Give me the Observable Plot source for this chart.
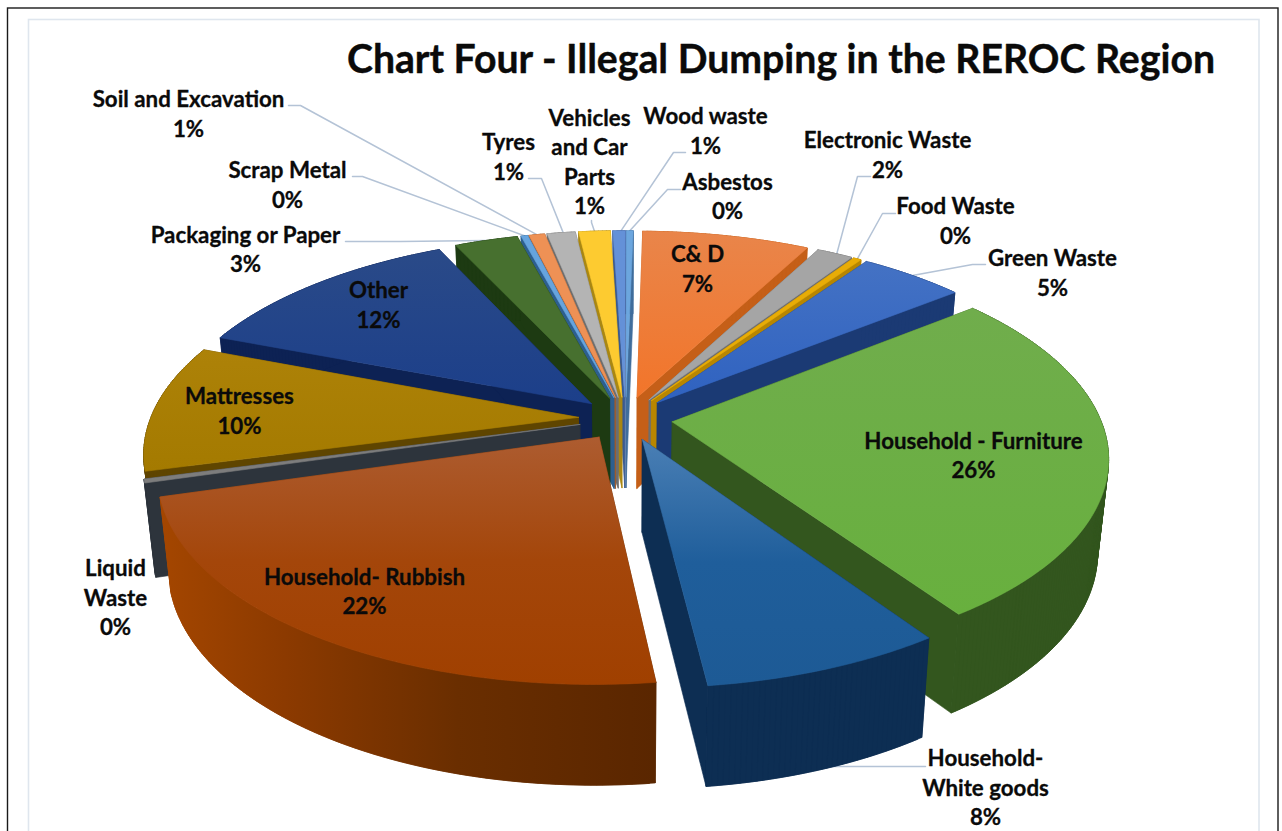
<!DOCTYPE html>
<html>
<head>
<meta charset="utf-8">
<style>
  html, body { margin: 0; padding: 0; background: #fff; overflow: hidden; }
  svg { display: block; }
</style>
<script src="https://cdn.jsdelivr.net/npm/d3@7"></script>
<script src="https://cdn.jsdelivr.net/npm/@observablehq/plot@0.6"></script>
</head>
<body>
<script>
// Waste categories, clockwise from the top of the pie
const categories = ["C& D", "Electronic Waste", "Food Waste", "Green Waste", "Household - Furniture",
  "Household-\nWhite goods", "Household- Rubbish", "Liquid\nWaste", "Mattresses", "Other",
  "Packaging or Paper", "Scrap Metal", "Soil and Excavation", "Tyres", "Vehicles\nand Car\nParts",
  "Wood waste", "Asbestos"];
// Share of illegal dumping incidents, percent
const shares = [7.4, 1.6, 0.35, 4.65, 26.2, 7.6, 22.45, 0.3, 10, 12.2, 2.8, 0.3, 0.7, 1.25, 1.4, 0.55, 0.3];

// Slice colours: top surface, side wall
const topColors = ["url(#gCD)", "#a5a5a5", "#e8ac06", "url(#gGreen)", "url(#gFurn)",
  "url(#gWhite)", "url(#gRub)", "#7d7d7d", "url(#gMat)", "url(#gOther)",
  "#47702f", "#66a4de", "#ee9155", "#b4b4b4", "#fdcb30", "#6491d8", "#6ca6de"];
const sideColors = ["#c55f18", "#6e6e6e", "#b88600", "#1b3a74", "#33561e",
  "#0d2e53", "url(#gRubSide)", "#2d343c", "#5f4500", "#0d2254",
  "#1d3a12", "#2d5f8f", "#a05a2b", "#6e6e6e", "#a98712", "#3a5a90", "#3f6d9c"];

// Anchor of each label (centre x, centre y) and the label end of its leader, where one is drawn
const labelX = [697, 887, 955, 1052, 973, 985, 364, 115, 239, 378, 245, 287, 188, 508, 589, 705, 727];
const labelY = [267, 153, 219, 271, 453.5, 786, 589.5, 596, 409, 303, 247.5, 183, 112, 155, 160, 129, 194.5];
const leaderStart = [null, [[870, 176], [857, 176]], [[895, 213], [882, 213]], [[985, 264], [972, 264]],
  null, [[925, 766], [822, 766]], null, null, null, null,
  [[345, 241], [400, 241]], [[352, 176], [362, 176]], [[288, 105], [300, 105]], [[528, 178], [541, 178]],
  [[591, 220], [591, 222]], [[685, 152], [673, 152]], [[680, 189], [667, 189]]];
const leaderEndsOnRim = categories.map((d, i) => i !== 5);

const titleText = "Chart Four - Illegal Dumping in the REROC Region";

// Perspective of the tilted pie: a disc of radius 1 seen from the front
const view = {cx: 625, cy: 418, sx: 428, sy: 200, k: 0.164, explode: 0.11, turn: 1.15};
const rad = d => d * Math.PI / 180;

function project([X, Y], lower = false) {
  const w = 1 - view.k * Y;
  let x = view.cx + view.sx * X / w;
  let y = view.cy + view.sy * Y / w;
  if (lower) {
    x = view.cx + (x - view.cx) * 0.977;
    y += 92 + 8 * Y;
  }
  return [x, y];
}

const total = d3.sum(shares);
let running = 0;
const slices = shares.map((v, i) => {
  const a0 = view.turn + running / total * 360;
  running += v;
  const a1 = view.turn + running / total * 360;
  const mid = (a0 + a1) / 2;
  const ox = view.explode * Math.sin(rad(mid));
  const oy = -view.explode * Math.cos(rad(mid));
  const n = Math.max(2, Math.ceil((a1 - a0) * 1.5));
  const rim = d3.range(n + 1).map(j => {
    const a = a0 + (a1 - a0) * j / n;
    return [ox + Math.sin(rad(a)), oy - Math.cos(rad(a))];
  });
  return {i, mid, depth: oy, apex: [ox, oy], rim};
});

// Polygons are painted back to front; within a slice: radial faces, wall, top
const polygons = [];
function addPolygon(id, fill, pts) {
  for (const [x, y] of [...pts, pts[0]]) polygons.push({id, fill, x, y});
}
for (const s of d3.sort(slices, d => d.depth)) {
  const side = sideColors[s.i], top = topColors[s.i];
  const n = s.rim.length - 1;
  const first = s.rim[0], last = s.rim[n];
  addPolygon(`f0-${s.i}`, side, [project(s.apex), project(first), project(first, true), project(s.apex, true)]);
  addPolygon(`f1-${s.i}`, side, [project(s.apex), project(last), project(last, true), project(s.apex, true)]);
  // The wall is a strip of overlapping quads, which keeps its silhouette straight where the rim
  // turns away and leaves no seams between neighbours
  for (let j = 0; j < n; j++) {
    const q = s.rim[j], p = s.rim[Math.min(j + 2, n)];
    addPolygon(`w-${s.i}-${j}`, side, [project(q), project(p), project(p, true), project(q, true)]);
  }
  addPolygon(`t-${s.i}`, top, [project(s.apex), ...s.rim.map(p => project(p))]);
}

// Leader lines end on the rim of their slice and run underneath the pie
const leaders = [];
leaderStart.forEach((start, i) => {
  if (!start) return;
  const s = slices[i];
  const pts = leaderEndsOnRim[i] ? [...start, project(s.rim[Math.floor(s.rim.length / 2)])] : start;
  for (const [x, y] of pts) leaders.push({id: i, x, y});
});

const labels = categories.map((name, i) => ({
  text: `${name}\n${Math.round(shares[i])}%`, x: labelX[i], y: labelY[i]
}));

const font = "Lato, 'Open Sans', sans-serif";
const plot = Plot.plot({
  width: 1282, height: 831,
  margin: 0,
  x: {domain: [0, 1282], range: [0, 1282], axis: null},
  y: {domain: [0, 831], range: [0, 831], axis: null},
  style: {background: "#fff", fontFamily: font},
  marks: [
    Plot.rect([{x1: 7.5, x2: 1278, y1: 8, y2: 860}], {x1: "x1", x2: "x2", y1: "y1", y2: "y2", fill: "none", stroke: "#1a1a1a", strokeWidth: 1.4}),
    Plot.rect([{x1: 28.5, x2: 1259, y1: 19.5, y2: 860}], {x1: "x1", x2: "x2", y1: "y1", y2: "y2", fill: "none", stroke: "#dfe6ee", strokeWidth: 1.6}),
    Plot.line(leaders, {x: "x", y: "y", z: "id", stroke: "#b4c3d6", strokeWidth: 1.5, curve: "linear"}),
    Plot.line(polygons, {
      x: "x", y: "y", z: "id",
      fill: {value: "fill", scale: null},
      stroke: {value: "fill", scale: null},
      strokeWidth: 0.6, strokeLinejoin: "round", curve: "linear"
    }),
    Plot.text(labels, {
      x: "x", y: "y", text: "text", fontSize: 22.3, fontWeight: 700, fill: "#0a0a0a",
      stroke: "#0a0a0a", strokeWidth: 0.3,
      lineHeight: 1.323, textAnchor: "middle", lineAnchor: "middle"
    }),
    Plot.text([titleText], {
      x: () => 780.5, y: () => 60, text: d => d, fontSize: 39.2, fontWeight: 700, fill: "#0a0a0a",
      stroke: "#0a0a0a", strokeWidth: 0.4,
      textAnchor: "middle", lineAnchor: "middle"
    })
  ]
});

// Shading ramps for the large slices
const ramps = [
  ["gCD", ["#e9854a", "#f2752a"]],
  ["gGreen", ["#4472c4", "#2f62c0"]],
  ["gFurn", ["#70ad4c", "#68b03e"]],
  ["gWhite", ["#4a7fb5", "#1f5e9b", "#1d5a95"]],
  ["gRub", ["#ad5c30", "#a4460a", "#a04000"]],
  ["gMat", ["#ad8208", "#a47a00"]],
  ["gOther", ["#2a4a88", "#1c3f8a"]],
];
const defs = d3.select(plot).insert("defs", ":first-child");
for (const [id, stops] of ramps) {
  const g = defs.append("linearGradient").attr("id", id).attr("x1", 0).attr("x2", 0).attr("y1", 0).attr("y2", 1);
  stops.forEach((c, i) => g.append("stop").attr("offset", i / (stops.length - 1)).attr("stop-color", c));
}
// The rubbish wall darkens from the left end of its arc towards the front, across the whole strip
const rub = defs.append("linearGradient").attr("id", "gRubSide").attr("gradientUnits", "userSpaceOnUse")
  .attr("x1", 160).attr("x2", 655).attr("y1", 0).attr("y2", 0);
[["0", "#a44600"], ["0.25", "#8c3a00"], ["0.6", "#6a2e00"], ["1", "#5a2600"]].forEach(([o, c]) =>
  rub.append("stop").attr("offset", o).attr("stop-color", c));

document.body.appendChild(plot);
</script>
</body>
</html>
